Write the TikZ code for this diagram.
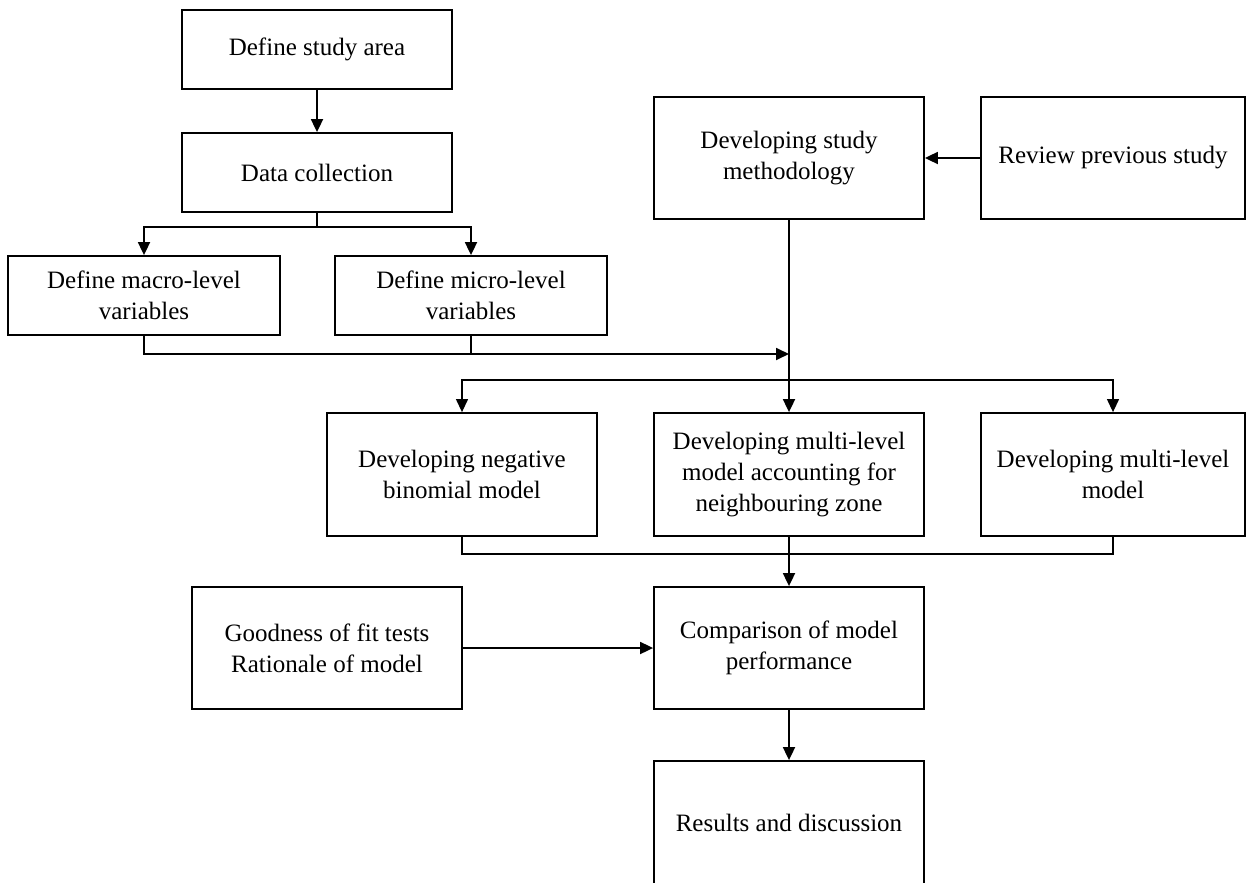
\documentclass[tikz,border=0pt]{standalone}
\usepackage{fontspec}
\setmainfont{Liberation Serif}
\usetikzlibrary{arrows.meta}
\begin{document}
\begin{tikzpicture}[x=1pt,y=-1pt,
  box/.style={draw,line width=1.8pt,inner sep=0pt,align=center,
    font=\fontsize{25}{31}\selectfont},
  conn/.style={line width=1.8pt},
  arr/.style={line width=1.8pt,-{Triangle[length=13pt,width=12pt]}},
  thinarr/.style={line width=1.2pt,-{Triangle[length=13pt,width=12pt]}}]
\useasboundingbox (0,0) rectangle (1248,883);
\clip (0,0) rectangle (1248,883);
\fill[white] (0,0) rectangle (1248,883);

\node[box,minimum width=270pt,minimum height=79pt] (area) at (317,49.5) {Define study area};
\node[box,minimum width=270pt,minimum height=79pt] (data) at (317,172.5) {Data collection};
\node[box,minimum width=272pt,minimum height=79pt] (macro) at (144,295.5) {Define macro-level\\variables};
\node[box,minimum width=272pt,minimum height=79pt] (micro) at (471,295.5) {Define micro-level\\variables};
\node[box,minimum width=270pt,minimum height=122pt] (method) at (789,158) {Developing study\\methodology};
\node[box,minimum width=264pt,minimum height=122pt] (review) at (1113,158) {Review previous study};
\node[box,minimum width=270pt,minimum height=123pt] (negbin) at (462,474.5) {Developing negative\\binomial model};
\node[box,minimum width=270pt,minimum height=123pt] (multin) at (789,474.5) {Developing multi-level\\model accounting for\\neighbouring zone};
\node[box,minimum width=264pt,minimum height=123pt] (multi) at (1113,474.5) {Developing multi-level\\model};
\node[box,minimum width=270pt,minimum height=122pt] (good) at (327,648) {Goodness of fit tests\\Rationale of model};
\node[box,minimum width=270pt,minimum height=122pt] (compare) at (789,648) {Comparison of model\\performance};
\node[box,minimum width=270pt,minimum height=123pt] (results) at (789,822.5) {Results and discussion};

\coordinate (split1) at (317,227);
\coordinate (join1) at (789,354);
\coordinate (split2) at (789,380);

\draw[arr] (area) -- (data);
\draw[conn] (data.south) -- (split1);
\draw[arr] (split1) -| (macro.north);
\draw[arr] (split1) -| (micro.north);
\draw[conn] (macro.south) |- (micro.south |- join1);
\draw[conn] (micro.south) -- (micro.south |- join1);
\draw[arr] (micro.south |- join1) -- (join1);
\draw[arr] (review) -- (method);
\draw[arr] (method) -- (multin);
\draw[thinarr] (split2) -| (negbin.north);
\draw[thinarr] (split2) -| (multi.north);
\draw[conn] (negbin.south) |- (multi.south |- 0,554) -- (multi.south);
\draw[arr] (multin) -- (compare);
\draw[arr] (good) -- (compare);
\draw[arr] (compare) -- (results);
\end{tikzpicture}
\end{document}
